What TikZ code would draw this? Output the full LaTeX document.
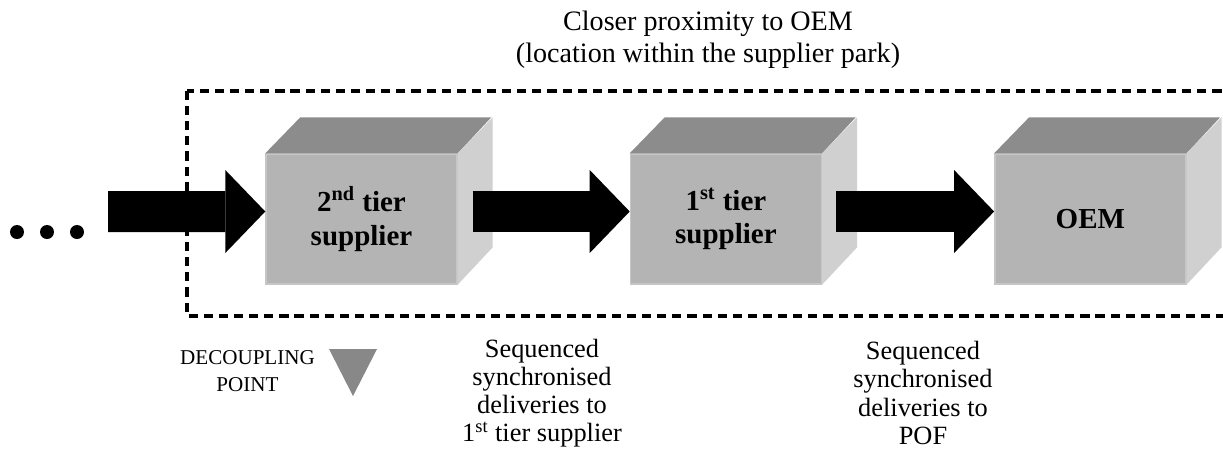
\documentclass[tikz,border=0pt]{standalone}
\usepackage{fontspec}
\setmainfont{Liberation Serif}
\usepackage{tikz}
\usetikzlibrary{arrows.meta,positioning}
\definecolor{cubefront}{RGB}{180,180,180}
\definecolor{cubetop}{RGB}{140,140,140}
\definecolor{cubeside}{RGB}{208,208,208}
\definecolor{cubeedge}{RGB}{198,198,198}
\definecolor{dpgray}{RGB}{136,136,136}
\tikzstyle{cube} = [rectangle, fill=cubefront, draw=cubeedge, line width=0.8pt, minimum width=3.82cm, minimum height=2.6cm, align=center, font=\fontsize{16.5}{19}\selectfont\bfseries]
\tikzstyle{bigarrow} = [line width=0.82cm, -{Triangle[length=0.8cm,width=1.66cm,line width=0pt]}]
\tikzstyle{parkline} = [line width=2.1pt, dash pattern=on 5.2pt off 3.4pt]
\tikzstyle{note} = [align=center, font=\fontsize{15}{16}\selectfont]
\tikzstyle{dot} = [circle, fill=black, inner sep=0pt, minimum size=0.28cm]

\begin{document}
\begin{tikzpicture}
\useasboundingbox (0,0) rectangle (24.46,-9.32);
\clip (0,0) rectangle (24.46,-9.32);

% Supplier park
\draw[parkline] (3.74,-1.82) rectangle (25,-6.32);
\node[align=center, font=\fontsize{16}{18}\selectfont] (park) at (14.16,-0.8) {Closer proximity to OEM\\(location within the supplier park)};

% Cubes
\node[cube] (b1) at (7.23,-4.38) {2\textsuperscript{nd} tier\\supplier};
\node[cube, right=3.44cm of b1] (b2) {1\textsuperscript{st} tier\\supplier};
\node[cube, right=3.44cm of b2] (b3) {OEM};
\foreach \b in {b1,b2,b3} {
  \fill[cubetop] (\b.north west) -- ++(0.7,0.72) -- ++(3.82,0) -- (\b.north east) -- cycle;
  \fill[cubeside] (\b.north east) -- ++(0.7,0.72) -- ++(0,-2.6) -- (\b.south east) -- cycle;
}

% Flow
\foreach \i/\x in {1/0.34,2/0.94,3/1.54}
  \node[dot] (dot\i) at (\x,-4.64) {};
\coordinate (start) at (2.16,-4.23);
\draw[bigarrow] (start) -- ([yshift=0.15cm]b1.west);
\draw[bigarrow] ([xshift=0.3cm,yshift=0.15cm]b1.east) -- ([yshift=0.15cm]b2.west);
\draw[bigarrow] ([xshift=0.28cm,yshift=0.15cm]b2.east) -- ([yshift=0.15cm]b3.west);

% Decoupling point
\node[align=center, font=\fontsize{12}{15}\selectfont] (dp) at (4.95,-7.42) {DECOUPLING\\POINT};
\fill[dpgray] (6.58,-6.98) -- (7.54,-6.98) -- (7.06,-7.92) -- cycle;

% Deliveries
\node[note] (seq1) at (10.84,-7.86) {Sequenced\\synchronised\\deliveries to\\1\textsuperscript{st} tier supplier};
\node[note] (seq2) at (18.46,-7.86) {Sequenced\\synchronised\\deliveries to\\POF};
\end{tikzpicture}
\end{document}
